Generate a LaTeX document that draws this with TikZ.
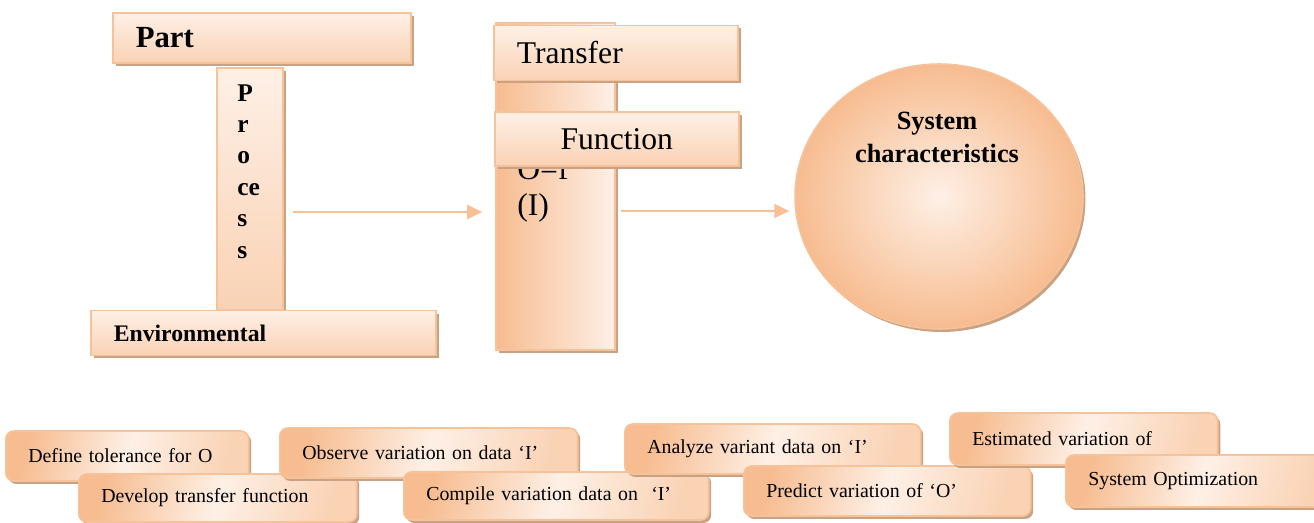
\documentclass[tikz,border=0pt]{standalone}
\usepackage{fontspec}
\setmainfont{Liberation Serif}
\usepackage{tikz}
\usetikzlibrary{arrows.meta,shapes.geometric,shadows}
\definecolor{peachLight}{HTML}{FEF0E6}
\definecolor{peachMid}{HTML}{FAD2B4}
\definecolor{peachDark}{HTML}{F7BC90}
\definecolor{peachEdge}{HTML}{F6C29A}
\definecolor{shadowCol}{HTML}{C9A283}
\definecolor{arrowCol}{HTML}{F9BF95}

\begin{document}
\begin{tikzpicture}[x=0.02cm, y=-0.02cm,
  bar/.style={draw=peachEdge, line width=0.9pt, top color=peachLight, bottom color=peachMid,
              drop shadow={shadow xshift=0.06cm, shadow yshift=-0.06cm, fill=shadowCol, opacity=1},
              anchor=west, align=left, minimum height=1cm, inner xsep=0.46cm, inner ysep=0pt},
  stepbox/.style={draw=peachEdge, line width=0.9pt, rounded corners=0.16cm,
              left color=peachDark, right color=peachMid, middle color=peachLight, shading angle=75,
              drop shadow={shadow xshift=0.05cm, shadow yshift=-0.06cm, fill=shadowCol, opacity=1},
              anchor=west, align=left, minimum height=1cm, inner xsep=0.45cm, inner ysep=0pt,
              font=\fontsize{11.3}{13}\selectfont},
  flow/.style={-{Triangle[length=0.3cm,width=0.28cm]}, line width=1.1pt, draw=arrowCol},
]
\useasboundingbox (0,0) rectangle (1314,523);

% ---- Bloque I: part / process / environmental ----
\node[draw=peachEdge, line width=0.9pt, top color=peachLight, bottom color=peachMid,
      drop shadow={shadow xshift=0.06cm, shadow yshift=-0.06cm, fill=shadowCol, opacity=1},
      minimum width=1.32cm, minimum height=4.84cm] (process) at (250,189) {};
\node[anchor=north west, inner sep=0pt, align=left, font=\fontsize{14.5}{17.9}\selectfont\bfseries]
  (processlbl) at (237,84) {P\\r\\o\\ce\\s\\s};
\node[bar, text width=5.04cm, font=\fontsize{17.5}{20}\selectfont\bfseries] (part) at (112,38) {Part};
\node[bar, text width=5.98cm, minimum height=0.9cm, font=\fontsize{13.5}{16}\selectfont\bfseries]
  (env) at (90,333) {Environmental};

% ---- Bloque F: transfer function ----
\node[draw=peachEdge, line width=0.9pt, left color=peachDark, right color=peachLight,
      drop shadow={shadow xshift=0.06cm, shadow yshift=-0.06cm, fill=shadowCol, opacity=1},
      minimum width=2.38cm, minimum height=6.54cm] (fbar) at (555.5,186.5) {};
\node[anchor=base west, inner sep=0pt, align=left, font=\fontsize{18}{21}\selectfont]
  (ofi) at (517,216) {O=f\\(I)};
\node[bar, text width=3.96cm, minimum height=1.1cm, font=\fontsize{18}{21}\selectfont]
  (transfer) at (493,53) {Transfer};
\node[bar, align=center, minimum width=4.88cm, minimum height=1.08cm, font=\fontsize{18}{21}\selectfont]
  (function) at (494,139) {Function};

% ---- Salida ----
\node[ellipse, draw=peachEdge, line width=0.9pt, inner color=peachLight, outer color=peachDark,
      drop shadow={shadow xshift=0.05cm, shadow yshift=-0.06cm, fill=shadowCol, opacity=1},
      minimum width=5.76cm, minimum height=5.3cm] (sysch) at (939,196.5) {};
\node[align=center, font=\fontsize{15}{18.7}\selectfont\bfseries] (syschlbl) at (937,137)
  {System\\characteristics};

% ---- Flujo ----
\draw[flow, shorten <=0.18cm, shorten >=0.26cm]
  ([yshift=-0.46cm]process.east) -- ([yshift=-0.46cm]process.east -| fbar.west);
\draw[flow, shorten <=0.1cm, shorten >=0.1cm]
  ([yshift=-0.49cm]fbar.east) -- ([yshift=-0.49cm]fbar.east -| sysch.west);

% ---- Pasos ----
\node[stepbox, text width=3.96cm] (define)    at (5,456)    {Define tolerance for O};
\node[stepbox, text width=4.66cm, minimum height=0.96cm] (develop) at (78,498) {Develop transfer function};
\node[stepbox, text width=5.06cm] (observe)   at (279,453)  {Observe variation on data ‘I’};
\node[stepbox, text width=5.2cm, minimum height=0.96cm] (compile) at (403,496) {Compile variation data on\ \ ‘I’};
\node[stepbox, text width=5.02cm] (analyze)   at (624,449)  {Analyze variant data on ‘I’};
\node[stepbox, text width=4.84cm] (predict)   at (743,491)  {Predict variation of ‘O’};
\node[stepbox, text width=4.46cm, minimum height=1.04cm] (estimated) at (949,439) {Estimated variation of};
\node[stepbox, text width=4.5cm, minimum height=1.04cm] (sysopt) at (1065,481) {System Optimization};

\end{tikzpicture}
\end{document}
